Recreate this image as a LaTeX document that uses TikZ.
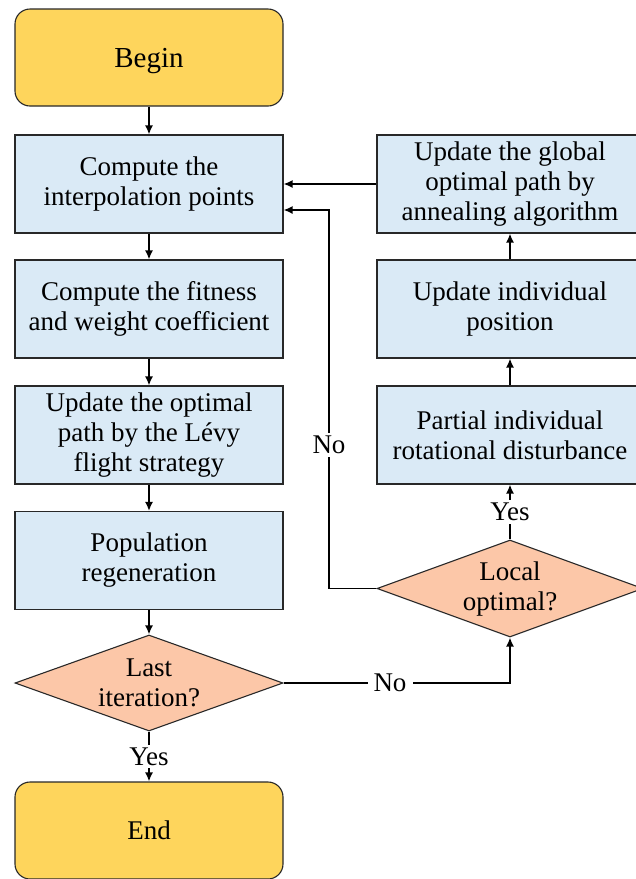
\documentclass[tikz,border=0pt]{standalone}
\usepackage{fontspec}
\setmainfont{Liberation Serif}
\usetikzlibrary{shapes.geometric,arrows.meta}
\definecolor{startyellow}{RGB}{254,213,92}
\definecolor{procblue}{RGB}{218,234,246}
\definecolor{decpeach}{RGB}{252,199,168}
\definecolor{edgegray}{RGB}{40,40,40}
\tikzset{
  base/.style={draw=edgegray, line width=1.1pt, text=black, align=center, inner sep=0pt},
  terminal/.style={base, fill=startyellow, rounded corners=15pt, minimum width=268pt, minimum height=97pt},
  proc/.style={base, fill=procblue, minimum width=268pt, minimum height=98pt, font=\fontsize{27}{30}\selectfont},
  dec/.style={base, fill=decpeach, shape=diamond, minimum width=268pt, minimum height=96pt},
  dectext/.style={align=center, font=\fontsize{27}{30}\selectfont},
  arr/.style={line width=1.6pt, draw=black, -{Latex[length=9pt,width=8pt]}},
  lbl/.style={fill=white, inner sep=3pt, font=\fontsize{27}{30}\selectfont}
}
\begin{document}
\begin{tikzpicture}[x=1pt,y=-1pt]
\useasboundingbox (0,0) rectangle (636,879);
% left column
\node[terminal, font=\fontsize{29}{30}\selectfont, text depth=0pt] (begin) at (149,57.5) {Begin};
\node[proc] (comp) at (149,184) {Compute the\\interpolation points};
\node[proc] (fit) at (149,309) {Compute the fitness\\and weight coefficient};
\node[proc] (levy) at (149,435) {Update the optimal\\path by the Lévy\\flight strategy};
\node[proc] (pop) at (149,560.5) {Population\\regeneration};
\node[dec] (last) at (149,683) {};
\node[dectext] (lasttxt) at (last) {Last\\iteration?};
\node[terminal, font=\fontsize{27}{30}\selectfont] (end) at (149,830.5) {End};
% right column
\node[proc, minimum width=266pt] (glob) at (510,184) {Update the global\\optimal path by\\annealing algorithm};
\node[proc, minimum width=266pt] (indiv) at (510,309) {Update individual\\position};
\node[proc, minimum width=266pt] (part) at (510,435) {Partial individual\\rotational disturbance};
\node[dec, minimum width=266pt, minimum height=97pt] (loc) at (510,588.5) {};
\node[dectext] (loctxt) at (loc) {Local\\optimal?};
% connectors
\draw[arr] (begin) -- (comp);
\draw[arr] (comp) -- (fit);
\draw[arr] (fit) -- (levy);
\draw[arr] (levy) -- (pop);
\draw[arr] (pop) -- (last.north);
\draw[arr] (last.south) -- node[lbl] (yes1) {Yes} (end);
\draw[arr] (glob.west) -- (comp.east |- glob.west);
\draw[arr] (indiv) -- (glob);
\draw[arr] (part) -- (indiv);
\draw[arr] (loc.north) -- node[lbl] (yes2) {Yes} (part);
\coordinate (nocorner) at (329,588.5);
\draw[arr] (loc.west) -- (nocorner) |- ([yshift=-26pt]comp.east);
\node[lbl] (no1) at (329,445) {No};
\draw[arr] (last.east) -| (loc.south);
\node[lbl, inner xsep=6pt] (no2) at (390,683) {No};
\end{tikzpicture}
\end{document}
